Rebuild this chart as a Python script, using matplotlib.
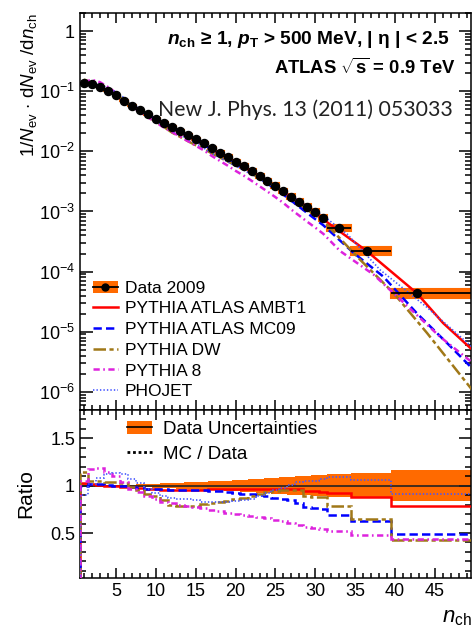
import numpy as np
import matplotlib
matplotlib.use('Agg')
import matplotlib.pyplot as plt
from matplotlib.patches import Rectangle, Patch
from matplotlib.lines import Line2D
from matplotlib.legend_handler import HandlerTuple
from matplotlib.ticker import FixedLocator, MultipleLocator, LogLocator, NullFormatter

plt.rcParams['font.family'] = ['Liberation Sans', 'DejaVu Sans']
plt.rcParams['mathtext.fontset'] = 'custom'
plt.rcParams['mathtext.rm'] = 'Liberation Sans'
plt.rcParams['mathtext.it'] = 'Liberation Sans:italic'
plt.rcParams['mathtext.bf'] = 'Liberation Sans:bold'
if 'mathtext.bfit' in plt.rcParams:
    plt.rcParams['mathtext.bfit'] = 'Liberation Sans:bold:italic'
plt.rcParams['lines.scale_dashes'] = False

# Data 2009: unit bins 1..31 then three wide bins
nch_pts = [1, 2, 3, 4, 5, 6, 7, 8, 9, 10, 11, 12, 13, 14, 15, 16, 17, 18, 19, 20,
           21, 22, 23, 24, 25, 26, 27, 28, 29, 30, 31, 32.9, 36.5, 42.7]
bin_lo = [0.5, 1.5, 2.5, 3.5, 4.5, 5.5, 6.5, 7.5, 8.5, 9.5, 10.5, 11.5, 12.5, 13.5, 14.5,
          15.5, 16.5, 17.5, 18.5, 19.5, 20.5, 21.5, 22.5, 23.5, 24.5, 25.5, 26.5, 27.5,
          28.5, 29.5, 30.5, 31.5, 34.5, 39.5]
bin_hi = bin_lo[1:] + [60.0]
data_vals = [0.136, 0.131, 0.119, 0.102, 0.0858, 0.0698, 0.0577, 0.0489, 0.0415, 0.0351,
             0.0301, 0.0258, 0.0222, 0.0188, 0.0160, 0.0137, 0.0113, 0.00955, 0.00811,
             0.00677, 0.00574, 0.00480, 0.00396, 0.00327, 0.00270, 0.00221, 0.00177,
             0.00145, 0.00120, 0.000977, 0.000786, 0.000530, 0.000222, 4.41e-5]
rel_err = [0.015, 0.012, 0.010, 0.010, 0.010, 0.011, 0.012, 0.014, 0.017, 0.020, 0.024,
           0.027, 0.031, 0.035, 0.038, 0.042, 0.046, 0.050, 0.054, 0.058, 0.063, 0.068,
           0.073, 0.078, 0.083, 0.088, 0.093, 0.098, 0.103, 0.108, 0.112, 0.120, 0.135, 0.165]

# MC / Data ratios per bin
ratio_ambt1 = [1.03, 1.02, 1.01, 1.0, 1.0, 0.99, 0.99, 0.98, 0.97, 0.96, 0.95, 0.95, 0.95,
               0.95, 0.95, 0.955, 0.96, 0.96, 0.965, 0.965, 0.97, 0.97, 0.97, 0.965, 0.965,
               0.965, 0.965, 0.96, 0.94, 0.94, 0.935, 0.925, 0.876, 0.79]
ratio_mc09 = [1.0, 1.02, 1.02, 1.01, 1.0, 1.0, 0.99, 0.98, 0.97, 0.96, 0.96, 0.955, 0.955,
              0.95, 0.95, 0.95, 0.945, 0.94, 0.93, 0.92, 0.91, 0.91, 0.905, 0.89, 0.87,
              0.86, 0.85, 0.82, 0.78, 0.76, 0.75, 0.69, 0.63, 0.49]
ratio_dw = [1.15, 1.05, 1.045, 1.04, 1.035, 1.03, 0.99, 0.95, 0.91, 0.89, 0.85, 0.80, 0.79,
            0.79, 0.79, 0.81, 0.82, 0.83, 0.84, 0.86, 0.87, 0.89, 0.91, 0.93, 0.945, 0.95,
            0.955, 0.955, 0.89, 0.885, 0.885, 0.79, 0.65, 0.43]
ratio_py8 = [1.05, 1.18, 1.19, 1.15, 1.10, 1.04, 0.97, 0.93, 0.89, 0.86, 0.83, 0.815, 0.80,
             0.79, 0.775, 0.76, 0.745, 0.73, 0.715, 0.70, 0.69, 0.675, 0.665, 0.655, 0.64,
             0.625, 0.605, 0.585, 0.56, 0.55, 0.54, 0.52, 0.475, 0.435]
ratio_phojet = [0.9, 1.02, 1.08, 1.12, 1.13, 1.12, 1.07, 1.03, 0.97, 0.92, 0.89, 0.87, 0.86,
                0.855, 0.85, 0.83, 0.825, 0.825, 0.83, 0.84, 0.85, 0.86, 0.89, 0.92, 0.95,
                0.98, 1.01, 1.04, 1.05, 1.05, 1.07, 1.09, 1.065, 0.91]

# MC curves beyond the unit bins
tail_ambt1_x = [36.4, 42.7, 46.0, 49.4, 51]
tail_ambt1 = [2.22e-4, 4.4e-5, 1.4e-5, 5.4e-6, 3.6e-6]
tail_mc09_x = [34.8, 38.5, 42.7, 46.9, 49.6, 51]
tail_mc09 = [2.04e-4, 8.3e-5, 2.04e-5, 5.75e-6, 2.5e-6, 1.7e-6]
tail_dw_x = [35.6, 39.8, 44.0, 49.6, 51]
tail_dw = [1.58e-4, 4.4e-5, 9.5e-6, 1.1e-6, 6.5e-7]
tail_py8_x = [33.1, 37.3, 40.2, 45.6, 49.5, 51]
tail_py8 = [2.2e-4, 8.9e-5, 3.9e-5, 8.3e-6, 3.2e-6, 2.3e-6]
tail_phojet_x = [34, 38.1, 43.9, 49.5, 51]
tail_phojet = [4.2e-4, 1.07e-4, 2.6e-5, 5.8e-6, 4.0e-6]

orange = '#ff6a00'
models = [
    ('PYTHIA ATLAS AMBT1', ratio_ambt1, tail_ambt1_x, tail_ambt1, dict(color='#ff0000', lw=1.8, ls='-')),
    ('PYTHIA ATLAS MC09', ratio_mc09, tail_mc09_x, tail_mc09, dict(color='#0000ff', lw=1.8, ls=(0, (6, 3)))),
    ('PYTHIA DW', ratio_dw, tail_dw_x, tail_dw, dict(color='#a07818', lw=1.8, ls=(0, (9, 2.5, 3, 2.5)))),
    ('PYTHIA 8', ratio_py8, tail_py8_x, tail_py8, dict(color='#dd22dd', lw=1.8, ls=(0, (4.5, 2.5, 1.2, 2.5)))),
    ('PHOJET', ratio_phojet, tail_phojet_x, tail_phojet, dict(color='#4455ff', lw=1.2, ls=(0, (1, 1.5)))),
]

fig = plt.figure(figsize=(4.73, 6.29), dpi=100)
ax = fig.add_axes([0.1691, 0.3482, 0.8266, 0.6312])
rx = fig.add_axes([0.1691, 0.0811, 0.8266, 0.2671], sharex=ax)

# ---- top panel
n_single = 31
for lo, hi, v, e in zip(bin_lo, bin_hi, data_vals, rel_err):
    ax.add_patch(Rectangle((lo, v * (1 - e)), hi - lo, 2 * v * e, facecolor=orange,
                           edgecolor=orange, lw=1.5, zorder=2))

handles = []
for name, ratio, tx, ty, style in models:
    xs = nch_pts[:n_single] + tx
    ys = [d * r for d, r in zip(data_vals[:n_single], ratio[:n_single])] + ty
    ax.plot(xs, ys, zorder=3, **style)
    handles.append(Line2D([], [], **style))

xerr = [[p - lo for p, lo in zip(nch_pts, bin_lo)],
        [min(hi, 49.5) - p for p, hi in zip(nch_pts, bin_hi)]]
ax.errorbar(nch_pts, data_vals, xerr=xerr, fmt='o', color='k', ms=5.8, elinewidth=1.3,
            capsize=0, zorder=5)

ax.set_yscale('log')
ax.set_ylim(5e-7, 2)
ax.set_xlim(0.5, 49.5)
decades = [1e-6, 1e-5, 1e-4, 1e-3, 1e-2, 1e-1, 1]
ax.yaxis.set_major_locator(FixedLocator(decades))
ax.set_yticklabels(['10$^{-6}$', '10$^{-5}$', '10$^{-4}$', '10$^{-3}$', '10$^{-2}$',
                    '10$^{-1}$', '1'])
ax.yaxis.set_minor_locator(LogLocator(base=10, subs=np.arange(2, 10), numticks=30))
ax.yaxis.set_minor_formatter(NullFormatter())
ax.set_ylabel(r'1/$N_{\rm ev}$ $\cdot$ d$N_{\rm ev}$ /d$n_{\rm ch}$', fontsize=13.5, loc='top')
ax.yaxis.set_label_coords(-0.105, 1.0)

data_handle = (Patch(facecolor=orange, edgecolor='none'),
               Line2D([], [], color='k', marker='o', ms=5, lw=1.3))
ax.legend([data_handle] + handles, ['Data 2009'] + [m[0] for m in models],
          handler_map={tuple: HandlerTuple(ndivide=1)},
          loc='upper left', bbox_to_anchor=(0.033, 0.326), frameon=False, fontsize=12.5,
          borderpad=0, borderaxespad=0, handlelength=1.45, handletextpad=0.4,
          labelspacing=0.32)

ax.text(0.945, 0.932, r'$\mathbfit{n}_{\mathbf{ch}}$ ≥ 1, $\mathbfit{p}_{\mathbf{T}}$ > 500 MeV, | η | < 2.5',
        transform=ax.transAxes, ha='right', va='center', fontsize=13.8, fontweight='bold')
ax.text(0.96, 0.861, r'ATLAS $\sqrt{\mathbf{s}}$ = 0.9 TeV', transform=ax.transAxes,
        ha='right', va='center', fontsize=13.3, fontweight='bold')
ax.text(0.954, 0.756, 'New J. Phys. 13 (2011) 053033', transform=ax.transAxes,
        ha='right', va='center', fontsize=15.3, family=['Lato', 'DejaVu Sans'], color='#222222')

# ---- ratio panel
edges = bin_lo + [bin_hi[-1]]
err_arr = np.array(rel_err)
rx.stairs(1 + err_arr, edges, baseline=1 - err_arr, fill=True, color=orange, zorder=1)
rx.axhline(1, color='#222222', lw=1.2, zorder=2)
for name, ratio, tx, ty, style in models:
    rx.stairs(ratio, edges, zorder=3, color=style['color'], lw=style['lw'],
              linestyle=style['ls'])

rx.set_ylim(0.025, 1.8)
rx.yaxis.set_major_locator(FixedLocator([0.5, 1.0, 1.5]))
rx.set_yticklabels(['0.5', '1', '1.5'])
rx.yaxis.set_minor_locator(MultipleLocator(0.1))
rx.set_ylabel('Ratio', fontsize=15)
rx.yaxis.set_label_coords(-0.115, 0.5)

unc_handle = (Patch(facecolor=orange, edgecolor='none'), Line2D([], [], color='k', lw=1.2))
mc_handle = Line2D([], [], color='k', lw=2, ls=(0, (2, 2)))
rx.legend([unc_handle, mc_handle], ['Data Uncertainties', 'MC / Data'],
          handler_map={tuple: HandlerTuple(ndivide=1)},
          loc='upper left', bbox_to_anchor=(0.12, 0.935), frameon=False, fontsize=13.5,
          borderpad=0, borderaxespad=0, handlelength=1.35, handletextpad=0.6,
          labelspacing=0.41)

fig.text(0.998, 1 - 617 / 629, r'$n_{\rm ch}$', ha='right', va='center', fontsize=16)

for a in (ax, rx):
    a.xaxis.set_major_locator(MultipleLocator(5))
    a.xaxis.set_minor_locator(MultipleLocator(1))
    a.tick_params(which='both', direction='in', top=True, right=True, width=1.1)
    a.tick_params(axis='y', which='major', length=9)
    a.tick_params(axis='y', which='minor', length=4.5)
    a.tick_params(axis='x', which='major', length=7)
    a.tick_params(axis='x', which='minor', length=3.5)
    a.tick_params(labelsize=13)
    for s in a.spines.values():
        s.set_linewidth(1.1)
ax.tick_params(labelbottom=False)
rx.set_xticks([5, 10, 15, 20, 25, 30, 35, 40, 45])

fig.savefig('out.png', dpi=100)
